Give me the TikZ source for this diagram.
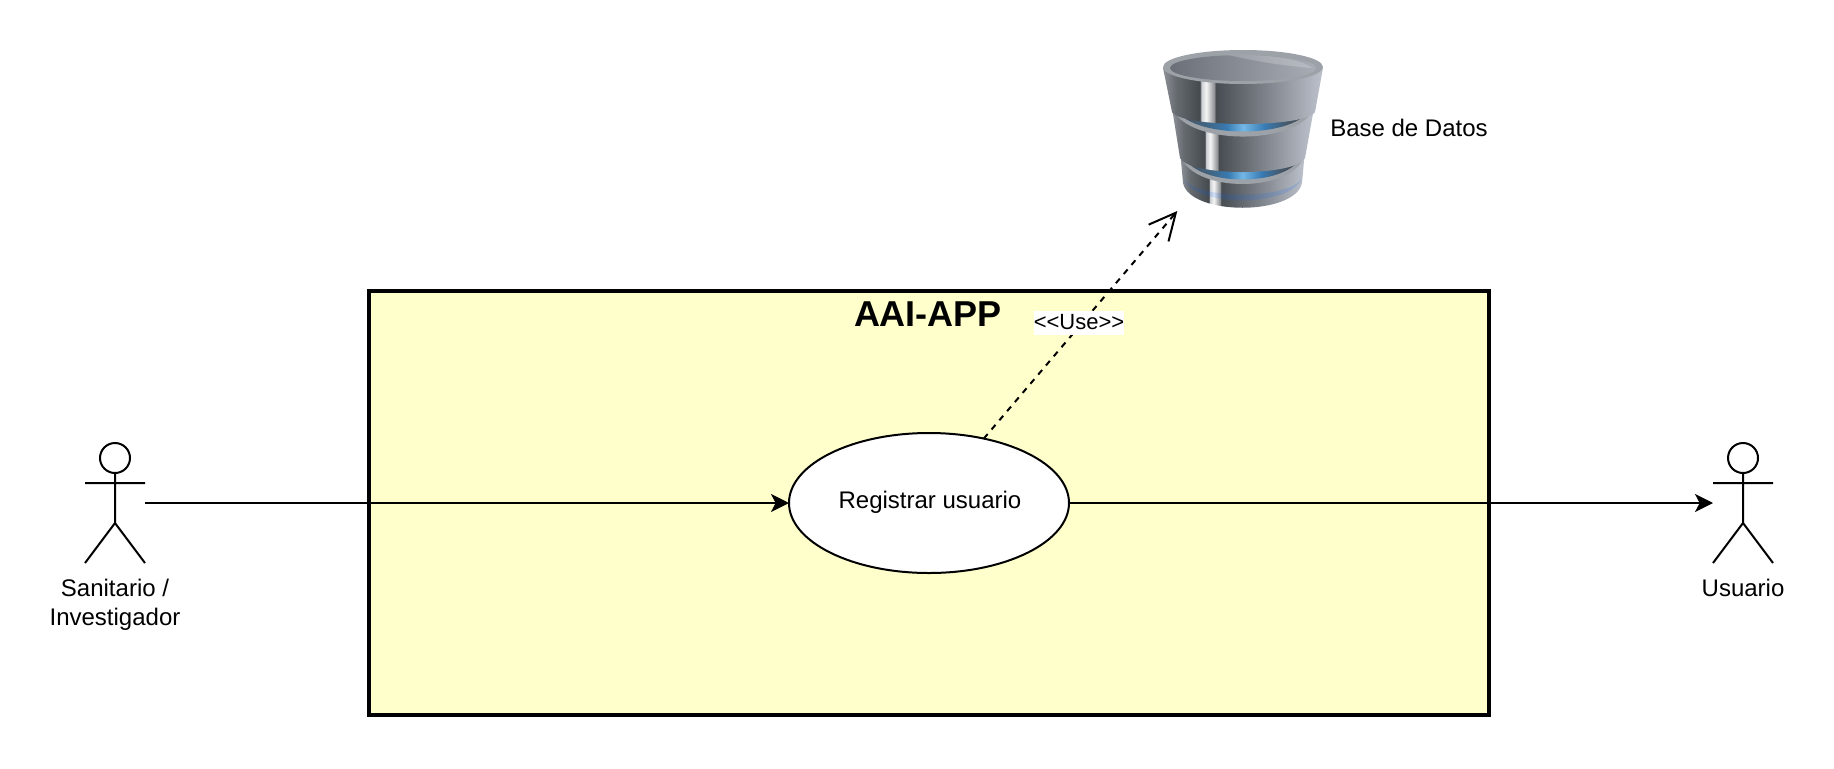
\documentclass[tikz,border=0pt]{standalone}
\usepackage{fontspec}
\setmainfont{Liberation Sans}
\usetikzlibrary{arrows.meta,shapes.geometric}

\pgfdeclarehorizontalshading{dbmetal}{100bp}{rgb(0bp)=(.56,.57,.60); rgb(25bp)=(.56,.57,.60); rgb(29bp)=(.40,.42,.44); rgb(36.5bp)=(.27,.29,.31); rgb(37bp)=(.80,.81,.83); rgb(38.5bp)=(.96,.96,.96); rgb(41bp)=(.56,.57,.58); rgb(41.5bp)=(.28,.30,.32); rgb(75bp)=(.74,.76,.80); rgb(100bp)=(.74,.76,.80)}
\pgfdeclarehorizontalshading{dbrecess}{100bp}{rgb(0bp)=(.30,.32,.35); rgb(25bp)=(.30,.32,.35); rgb(37bp)=(.25,.40,.52); rgb(44bp)=(.22,.48,.70); rgb(50bp)=(.45,.72,.90); rgb(58bp)=(.22,.48,.70); rgb(66bp)=(.27,.35,.42); rgb(72bp)=(.27,.30,.33); rgb(100bp)=(.27,.30,.33)}
\pgfdeclarehorizontalshading{dbtop}{100bp}{rgb(0bp)=(.42,.44,.47); rgb(25bp)=(.42,.44,.47); rgb(75bp)=(.66,.68,.71); rgb(100bp)=(.66,.68,.71)}

\definecolor{sysyellow}{HTML}{FFFFCC}

\tikzset{
  thinline/.style={line width=1.5pt},
  labeltext/.style={font=\fontsize{18}{21.6}\selectfont, align=center, inner sep=0pt},
  actorbox/.style={minimum width=45pt, minimum height=90pt, inner sep=0pt, outer sep=0pt},
  flow/.style={thinline, -{Stealth[length=13.5pt,width=13.5pt,inset=3.5pt]}},
  uses/.style={thinline, dash pattern=on 4.5pt off 4.5pt, -{Straight Barb[length=20pt,width=19.5pt]}},
  dbring/.style={fill={rgb,255:red,157;green,162;blue,168}},
  actor/.pic={
    \draw [thinline] (0,-45) circle [radius=15];
    \draw [thinline] (0,-30) -- (0,20) (-30,-20) -- (30,-20) (-30,60) -- (0,20) -- (30,60);
  }
}

\begin{document}
\begin{tikzpicture}[x=0.75pt,y=0.75pt,yscale=-1,xscale=1]
\useasboundingbox (0,0) rectangle (1834,768);

%System box
\node (sistema) [draw, fill=sysyellow, line width=3pt, minimum width=840pt, minimum height=318pt, inner sep=0pt, outer sep=0pt] at (929,503) {};
\node (titulo) [font=\fontsize{27}{32}\selectfont\bfseries, inner sep=0pt] at (928,314) {AAI-APP};

%Database icon, bottom tier first
\shade [shading=dbmetal] (1180,150) -- (1183,183) .. controls (1190,216) and (1295,216) .. (1302,183) -- (1305,150) -- cycle;
\fill [blue!60!cyan, opacity=.14] (1183,178) .. controls (1195,200) and (1290,200) .. (1302,178) .. controls (1290,208) and (1195,208) .. (1183,178) -- cycle;
\fill [dbring] (1180,154) .. controls (1190,194) and (1295,194) .. (1305,154) -- cycle;
\shade [shading=dbrecess] (1183,154) .. controls (1193,188) and (1292,188) .. (1302,154) -- cycle;
\shade [shading=dbmetal] (1172,108) -- (1180,158) .. controls (1190,176.7) and (1295,176.7) .. (1305,158) -- (1314,108) -- cycle;
\fill [dbring] (1172,106) .. controls (1182,146.7) and (1304,146.7) .. (1314,106) -- cycle;
\shade [shading=dbrecess] (1175,106) .. controls (1185,140) and (1301,140) .. (1311,106) -- cycle;
\shade [shading=dbmetal] (1163,68) -- (1172,112) .. controls (1182,128) and (1305,128) .. (1315,112) -- (1323,68) -- cycle;
\fill [dbring] (1243,67) ellipse [x radius=80, y radius=17];
\shade [shading=dbtop] (1243,68) ellipse [x radius=73, y radius=13];
\fill [white, opacity=.2] (1228,55) .. controls (1260,62) and (1285,66) .. (1312,68) .. controls (1300,58) and (1265,54) .. (1228,55) -- cycle;

%Named places
\node (db) [minimum width=120pt, minimum height=120pt, inner sep=0pt, outer sep=0pt] at (1245,131) {};
\node (dbtexto) [labeltext, anchor=west] at (1330,128) {Base de Datos};
\node (sanitario) [actorbox] at (115,503) {};
\node (usuario) [actorbox] at (1743,503) {};
\pic [transform shape] at (sanitario) {actor};
\pic [transform shape] at (usuario) {actor};
\node (sanitariotexto) [labeltext] at (115,604.5) {Sanitario /\\Investigador};
\node (usuariotexto) [labeltext] at (1743,588) {Usuario};

%Use case
\node (registrar) [draw, fill=white, thinline, ellipse, minimum width=210pt, minimum height=105pt, inner sep=0pt, outer sep=0pt] at (929,503) {};
\node (registrartexto) [labeltext] at (930,502) {Registrar usuario};

%Connectors
\draw [flow] (sanitario.east) -- (registrar.west);
\draw [flow] (registrar.east) -- (usuario.west);
\draw [uses] (registrar) -- (db);
\node (usetexto) [font=\fontsize{16.5}{20}\selectfont, fill=white, inner sep=0pt, text height=14pt, text depth=4.7pt, yshift=-1.5pt] at (1079,321) {<{}<Use>{}>};

\end{tikzpicture}
\end{document}
